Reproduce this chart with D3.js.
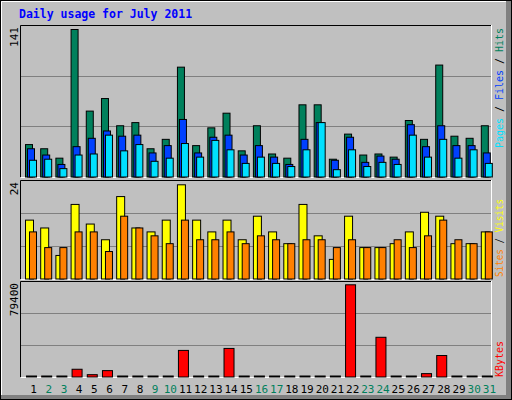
<!DOCTYPE html><html><head><meta charset="utf-8">
<script src="https://cdn.jsdelivr.net/npm/d3@7/dist/d3.min.js"></script>
<style>body{margin:0;background:#fff}</style></head><body><svg id="c" width="512" height="400"></svg>
<script>
const days=d3.range(1,32);
const weekend=[2,3,9,10,16,17,23,24,30,31];
const hits=[31,27,18,141,63,75,49,52,27,36,105,30,47,61,25,49,22,18,69,69,17,41,21,22,19,54,36,107,39,37,49];
const files=[27,21,12,29,37,44,39,40,23,30,55,23,38,40,21,30,19,12,36,52,16,38,14,20,17,50,29,49,30,30,23];
const pages=[16,17,8,21,22,40,25,31,15,18,32,19,35,26,13,19,13,10,26,52,7,26,10,14,12,40,19,36,18,26,13];
const visits=[15,13,6,19,14,10,21,13,12,15,24,15,12,15,10,16,12,9,19,11,5,16,8,8,9,12,17,16,9,9,12];
const sites=[12,8,8,12,12,7,16,13,11,9,15,10,10,12,9,11,10,9,10,10,8,10,8,8,10,8,11,15,10,9,12];
const kbytes=[0,0,0,6670,2000,5500,0,0,0,0,22900,0,0,24600,0,0,0,0,0,0,0,79400,0,34200,0,0,2900,18500,0,0,0];
const maxHits=141,maxVisits=24,maxK=79400;

const svg=d3.select("#c");
svg.append("rect").attr("x",0).attr("y",0).attr("width",512).attr("height",400).attr("fill","#c0c0c0");
svg.append("rect").attr("x",506).attr("y",0).attr("width",6).attr("height",400).attr("fill","#808080");
svg.append("rect").attr("x",0).attr("y",395).attr("width",512).attr("height",5).attr("fill","#808080");
svg.append("rect").attr("x",0.5).attr("y",0.5).attr("width",511).attr("height",399).attr("fill","none").attr("stroke","#000");
svg.append("polyline").attr("points","1.5,395 1.5,1.5 506,1.5").attr("fill","none").attr("stroke","#fff");
svg.append("text").attr("x",19).attr("y",18).text("Daily usage for July 2011")
 .attr("font-family","DejaVu Sans Mono").attr("font-weight","bold").attr("font-size",11.5).attr("fill","#0000ff");

const x=d3.scaleBand().domain(days).range([20,491]);
const panels=[{t:25,b:177},{t:180,b:279},{t:281,b:377}];
panels.forEach(p=>{
  svg.append("rect").attr("x",20).attr("y",p.t).attr("width",471).attr("height",p.b-p.t).attr("fill","#c0c0c0");
  [1,2].forEach(i=>{const yy=Math.round(p.t+(p.b-p.t)*i/3)+0.5;
    svg.append("line").attr("x1",20).attr("x2",491).attr("y1",yy).attr("y2",yy).attr("stroke","#808080");});
  svg.append("polyline").attr("points",`20.5,${p.b} 20.5,${p.t+0.5} 491,${p.t+0.5}`).attr("fill","none").attr("stroke","#000");
  svg.append("polyline").attr("points",`21,${p.b+0.5} 491.5,${p.b+0.5} 491.5,${p.t}`).attr("fill","none").attr("stroke","#fff");
});
const yTop=d3.scaleLinear().domain([0,maxHits]).range([176.5,29]);
const yMid=d3.scaleLinear().domain([0,maxVisits]).range([278.5,184.3]);
const yBot=d3.scaleLinear().domain([0,maxK]).range([376.5,284.3]);

function bars(data,y,off,w,color){
  svg.append("g").selectAll("rect").data(data).join("rect")
   .attr("x",(d,i)=>x(days[i])+off+0.5).attr("width",w)
   .attr("y",d=>Math.min(y(d),y(0)-1)+0.5).attr("height",d=>Math.max(1,y(0)-y(d)))
   .attr("fill",color).attr("stroke","#000");
}
bars(hits,yTop,5,7,"#00805c");
bars(files,yTop,7,7,"#0040ff");
bars(pages,yTop,9,7,"#00e0ff");
bars(visits,yMid,5,8,"#ffff00");
bars(sites,yMid,9,7,"#ff8000");
bars(kbytes,yBot,6,10,"#ff0000");

svg.append("g").selectAll("text").data(days).join("text")
 .attr("x",d=>x(d)+x.bandwidth()/2+6).attr("y",393).attr("text-anchor","middle")
 .attr("font-family","DejaVu Sans Mono").attr("font-size",11)
 .attr("fill",d=>weekend.includes(d)?"#00805c":"#000").text(d=>d);

function ylab(txt,yy){svg.append("text").attr("transform",`translate(18,${yy}) rotate(-90)`)
 .attr("font-family","DejaVu Sans Mono").attr("font-size",11).attr("text-anchor","end").text(txt);}
ylab(String(maxHits),27);ylab(String(maxVisits),182);ylab(String(maxK),283);

function rlab(parts,yy,len){const t=svg.append("text").attr("transform",`translate(503,${yy}) rotate(-90)`)
 .attr("font-family","DejaVu Sans Mono").attr("font-size",10.5)
 .attr("textLength",len).attr("lengthAdjust","spacingAndGlyphs");
 parts.forEach(([s,c])=>t.append("tspan").attr("fill",c).text(s));}
rlab([["Pages","#00e0ff"],[" / ","#000"],["Files","#0040ff"],[" / ","#000"],["Hits","#00805c"]],148,120);
rlab([["Sites","#ff8000"],[" / ","#000"],["Visits","#ffff00"]],277,78);
rlab([["KBytes","#ff0000"]],377,36);
</script></body></html>
